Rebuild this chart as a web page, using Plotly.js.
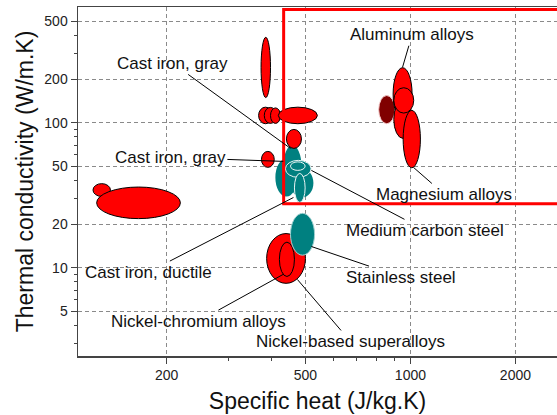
<!DOCTYPE html>
<html><head><meta charset="utf-8">
<script src="https://cdn.plot.ly/plotly-3.0.1.min.js"></script>
<style>html,body{margin:0;padding:0;background:#fff}#chart{width:557px;height:415px}</style>
</head><body><div id="chart"></div>
<script>
// Each material is an ellipse spanning [low, high] of specific heat (J/kg.K) and thermal conductivity (W/m.K)
const materials = ["Carbon steel", "Low alloy steel", "Alloy steel", "Medium carbon steel", "Medium carbon steel (core)", "Tool steel",
  "Copper alloys", "Brass A", "Brass B", "Brass C", "Zinc alloys", "Nickel", "Cast iron, gray", "Lead", "Lead alloys",
  "Nickel-chromium alloys", "Nickel-based superalloys",
  "Aluminum (cast)", "Aluminum alloys A", "Aluminum alloys B", "Magnesium alloys", "Aluminum alloys C", "Stainless steel"];
const cpLow  = [432, 410, 453, 438, 453, 465, 373, 367, 381, 397, 418, 441, 374, 123, 126, 387, 421, 811, 892, 896, 953, 896, 453];
const cpHigh = [487, 474, 527, 519, 499, 499, 397, 402, 413, 424, 541, 487, 407, 138, 219, 500, 465, 902, 1011, 1013, 1068, 1022, 531];
const kLow   = [36.4, 31.0, 30.5, 42.0, 46.9, 28.2, 149, 98.4, 98.9, 98.9, 98.4, 66.5, 49.2, 31.0, 21.8, 7.8, 8.7, 98.4, 103.7, 77.9, 48.9, 116.5, 12.2];
const kHigh  = [69.7, 56.7, 48.4, 55.0, 53.7, 44.7, 388, 128, 127.5, 126.5, 128, 89.9, 63.4, 38.0, 36.0, 17.2, 15.0, 154, 239.5, 142.5, 121.6, 174.3, 23.7];
const groupColor = ["teal", "teal", "teal", "teal", "teal", "teal",
  "red", "red", "red", "red", "red", "red", "red", "red", "red", "red", "red",
  "darkred", "red", "red", "red", "red", "teal"];
const edgeStyle = ["none", "none", "none", "white", "white", "white",
  "black", "black", "black", "black", "black", "black", "black", "black", "black", "black", "black",
  "pink", "black", "black", "black", "black", "paleteal"];

// Highlight box
const highlightCp = [433, 6000];
const highlightK = [27.6, 604];

// Labels: text, leader head (cp, k), text centre (cp, k)
const labelText = ["Cast iron, gray", "Cast iron, gray", "Aluminum alloys", "Magnesium alloys", "Medium carbon steel",
  "Stainless steel", "Cast iron, ductile", "Nickel-chromium alloys", "Nickel-based superalloys"];
const headCp = [453, 432, 949, 1020, 520, 520, 462, 432, 474];
const headK  = [66.5, 54.1, 240.7, 49.2, 46.9, 14.0, 30.5, 9.0, 8.3];
const textCp = [208.5, 205, 1011, 1252, 1104, 942, 177.4, 246.8, 673];
const textK  = [256.4, 57.6, 404.5, 32.0, 18.1, 8.61, 9.33, 4.28, 3.10];

// Axis ticks
const xTicks = [200, 500, 1000, 2000];
const xTickText = ["200", "500", "1000", "2000"];
const xMinor = [300, 400, 600, 700, 800, 900];
const yTicks = [5, 10, 20, 50, 100, 200, 500];
const yTickText = ["5", "10", "20", "50", "100", "200", "500"];
const yMinor = [3, 4, 6, 7, 8, 9, 30, 40, 60, 70, 80, 90, 300, 400];

const palette = {teal: "#008080", red: "#FF0000", darkred: "#800000"};
const edges = {none: null, white: "#E8F4F4", black: "#000000", pink: "#F4C8C8", paleteal: "#9FD0D0"};

const FONT = "Liberation Sans, Arial, Helvetica, sans-serif";
const shapes = [];
for (let i = 0; i < materials.length; i++) {
  const e = edges[edgeStyle[i]];
  shapes.push({
    type: "circle", xref: "x", yref: "y", layer: "above",
    x0: cpLow[i], x1: cpHigh[i], y0: kLow[i], y1: kHigh[i],
    fillcolor: palette[groupColor[i]],
    line: e ? {color: e, width: 1} : {width: 0}
  });
}
shapes.push({
  type: "rect", xref: "x", yref: "y", layer: "above",
  x0: highlightCp[0], x1: highlightCp[1], y0: highlightK[0], y1: highlightK[1],
  fillcolor: "rgba(0,0,0,0)", line: {color: "#FF0000", width: 3}
});

const annotations = labelText.map((t, i) => ({
  text: t, xref: "x", yref: "y", axref: "x", ayref: "y",
  x: Math.log10(headCp[i]), y: Math.log10(headK[i]),
  ax: Math.log10(textCp[i]), ay: Math.log10(textK[i]),
  showarrow: true, arrowhead: 0, arrowwidth: 1, arrowcolor: "#000",
  font: {family: FONT, size: 17, color: "#111"}, borderpad: 1
}));

const axisCommon = {
  type: "log", showline: true, linecolor: "#444", linewidth: 1.5, mirror: true,
  ticks: "outside", ticklen: 6, tickwidth: 1, tickcolor: "#444",
  showgrid: true, gridcolor: "#8a8a8a", gridwidth: 1, griddash: "4px,3px",
  zeroline: false, automargin: false,
  tickfont: {family: FONT, size: 14, color: "#222"}
};

const layout = {
  width: 557, height: 415,
  margin: {l: 78, r: 0, t: 7, b: 59},
  paper_bgcolor: "#fff", plot_bgcolor: "#fff",
  showlegend: false,
  font: {family: FONT},
  xaxis: Object.assign({}, axisCommon, {
    range: [2.0469, 3.4202], tickmode: "array", tickvals: xTicks, ticktext: xTickText,
    minor: {tickmode: "array", tickvals: xMinor, ticks: "outside", ticklen: 3, tickcolor: "#444", showgrid: false},
    title: {text: "Specific heat (J/kg.K)", font: {family: FONT, size: 23, color: "#111"}, standoff: 10}
  }),
  yaxis: Object.assign({}, axisCommon, {
    range: [0.391, 2.798], tickmode: "array", tickvals: yTicks, ticktext: yTickText,
    minor: {tickmode: "array", tickvals: yMinor, ticks: "outside", ticklen: 3, tickcolor: "#444", showgrid: false},
    title: {text: "Thermal conductivity (W/m.K)", font: {family: FONT, size: 23, color: "#111"}, standoff: 4}
  }),
  shapes: shapes,
  annotations: annotations
};

Plotly.newPlot("chart", [], layout, {displayModeBar: false, staticPlot: true});
</script>
</body></html>
